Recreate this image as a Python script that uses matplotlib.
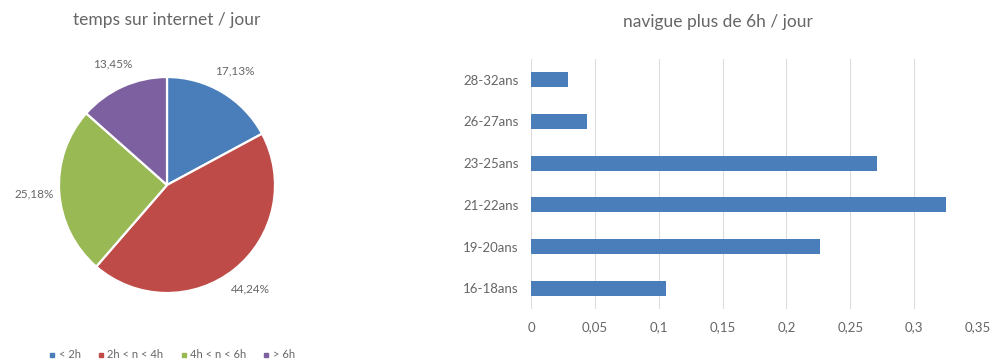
import matplotlib.pyplot as plt
from matplotlib.lines import Line2D

plt.rcParams['font.family'] = ['Lato', 'DejaVu Sans']

# --- données ---
pie_labels = ['< 2h', '2h < n < 4h', '4h < n < 6h', '> 6h']
pie_values = [17.13, 44.24, 25.18, 13.45]
pie_colors = ['#4a7ebb', '#be4b48', '#98b954', '#7d60a0']

age_groups = ['16-18ans', '19-20ans', '21-22ans', '23-25ans', '26-27ans', '28-32ans']
share_6h = [0.1057, 0.2262, 0.3253, 0.2712, 0.0442, 0.0288]
x_ticks = [0, 0.05, 0.1, 0.15, 0.2, 0.25, 0.3, 0.35]

TXT = '#666666'
W, H = 993, 364
fig = plt.figure(figsize=(W / 100, H / 100), dpi=100)

# --- camembert ---
cx, cy, r = 167, 185, 108
ax1 = fig.add_axes([(cx - r) / W, 1 - (cy + r) / H, 2 * r / W, 2 * r / H])
wedges, _, autotexts = ax1.pie(
    pie_values, colors=pie_colors, startangle=90, counterclock=False,
    autopct=lambda p: f"{p:.2f}%".replace('.', ','), pctdistance=1.23,
    wedgeprops=dict(edgecolor='white', linewidth=1.6),
    textprops=dict(color=TXT, fontsize=8.5))
ax1.set_xlim(-1, 1)
ax1.set_ylim(-1, 1)
ax1.set_aspect('equal')
fig.text(167 / W, 1 - 20 / H, 'temps sur internet / jour', ha='center', va='center',
         fontsize=12.5, color=TXT)

handles = [Line2D([], [], marker='s', linestyle='none', markersize=3.5,
                  markerfacecolor=c, markeredgecolor=c) for c in pie_colors]
fig.legend(handles, pie_labels, loc='center', bbox_to_anchor=(172 / W, 1 - 355 / H),
           ncol=4, frameon=False, fontsize=8, handlelength=0.6, handletextpad=0.3,
           columnspacing=1.5, labelcolor=TXT)

# --- barres ---
ax2 = fig.add_axes([531 / W, 1 - 309 / H, (978 - 531) / W, (309 - 59) / H])
ax2.barh(range(len(age_groups)), share_6h, height=0.36, color='#4a7ebb', zorder=3)
ax2.set_xlim(0, 0.35)
ax2.set_ylim(-0.5, len(age_groups) - 0.5)
ax2.set_yticks(range(len(age_groups)))
ax2.set_yticklabels(age_groups)
ax2.set_xticks(x_ticks)
ax2.set_xticklabels([f"{t:g}".replace('.', ',') for t in x_ticks])
ax2.tick_params(axis='both', length=0, colors=TXT, labelsize=9.5)
ax2.tick_params(axis='x', pad=9)
ax2.tick_params(axis='y', pad=9)
ax2.grid(axis='x', color='#dcdcdc', linewidth=0.8, zorder=0)
for s in ax2.spines.values():
    s.set_visible(False)
fig.text(718 / W, 1 - 22 / H, 'navigue plus de 6h / jour', ha='center', va='center',
         fontsize=12.5, color=TXT)

fig.savefig('out.png', dpi=100, facecolor='white')
